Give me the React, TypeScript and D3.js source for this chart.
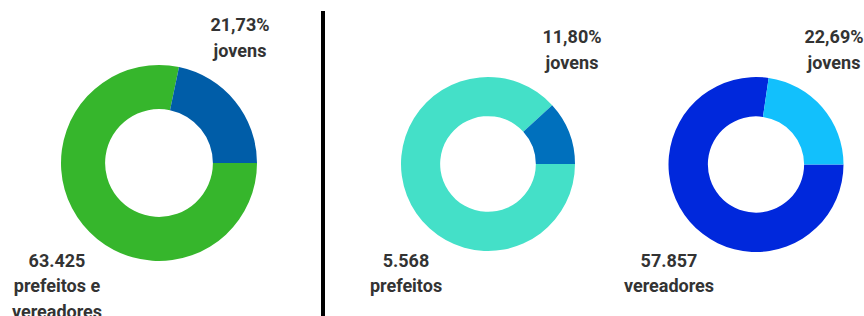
import { useEffect, useRef } from 'react';
import * as d3 from 'd3';

// share of young candidates (%) in each group
const groups = ['total', 'prefeitos', 'vereadores'];
const jovensPct = [21.73, 11.8, 22.69];
const pctLabels = ['21,73%', '11,80%', '22,69%'];
const countLabels = ['63.425', '5.568', '57.857'];
const nameLabels = [['prefeitos e', 'vereadores'], ['prefeitos'], ['vereadores']];
const mainColors = ['#36b62c', '#44e0c8', '#0028dc'];
const jovensColors = ['#005da8', '#0070bd', '#12c0fc'];

const W = 864;
const H = 316;

const App = () => {
  const svgRef = useRef<SVGSVGElement>(null);

  useEffect(() => {
    if (!svgRef.current) return;
    const svg = d3.select(svgRef.current);
    svg.selectAll('*').remove();

    // layout per donut
    const layout = [
      { cx: 159, cy: 163, r: 98, top: 240, bottom: 57 },
      { cx: 488, cy: 164, r: 87, top: 572, bottom: 406 },
      { cx: 756, cy: 164.5, r: 87.5, top: 834, bottom: 669 },
    ];

    const pie = d3.pie<number>()
      .sort(null)
      .value(d => d)
      .startAngle(Math.PI / 2)
      .endAngle(Math.PI / 2 + 2 * Math.PI);

    groups.forEach((g, i) => {
      const L = layout[i];
      const arc = d3.arc<d3.PieArcDatum<number>>()
        .innerRadius(L.r * 0.55)
        .outerRadius(L.r);

      const grp = svg.append('g')
        .attr('class', `donut-${g}`)
        .attr('transform', `translate(${L.cx},${L.cy})`);

      grp.selectAll('path')
        .data(pie([100 - jovensPct[i], jovensPct[i]]))
        .join('path')
        .attr('d', arc)
        .attr('fill', (_, j) => (j === 0 ? mainColors[i] : jovensColors[i]));

      const txt = (x: number, y: number, s: string) =>
        svg.append('text')
          .attr('x', x)
          .attr('y', y)
          .attr('text-anchor', 'middle')
          .style('font-family', 'Roboto, sans-serif')
          .style('font-weight', 700)
          .style('font-size', '18px')
          .style('fill', '#333')
          .text(s);

      const topY = i === 0 ? 31 : 42.5;
      txt(L.top, topY, pctLabels[i]);
      txt(L.top, topY + 26, 'jovens');

      txt(L.bottom, 267, countLabels[i]);
      nameLabels[i].forEach((s, k) => txt(L.bottom, 292 + k * 26, s));
    });

    // divider
    svg.append('line')
      .attr('x1', 323)
      .attr('x2', 323)
      .attr('y1', 11)
      .attr('y2', H)
      .attr('stroke', '#000')
      .attr('stroke-width', 4);
  }, []);

  return (
    <div style={{ position: 'absolute', left: 0, top: 0, background: '#fff' }}>
      <svg ref={svgRef} width={W} height={H} style={{ display: 'block' }} />
    </div>
  );
};

export default App;
